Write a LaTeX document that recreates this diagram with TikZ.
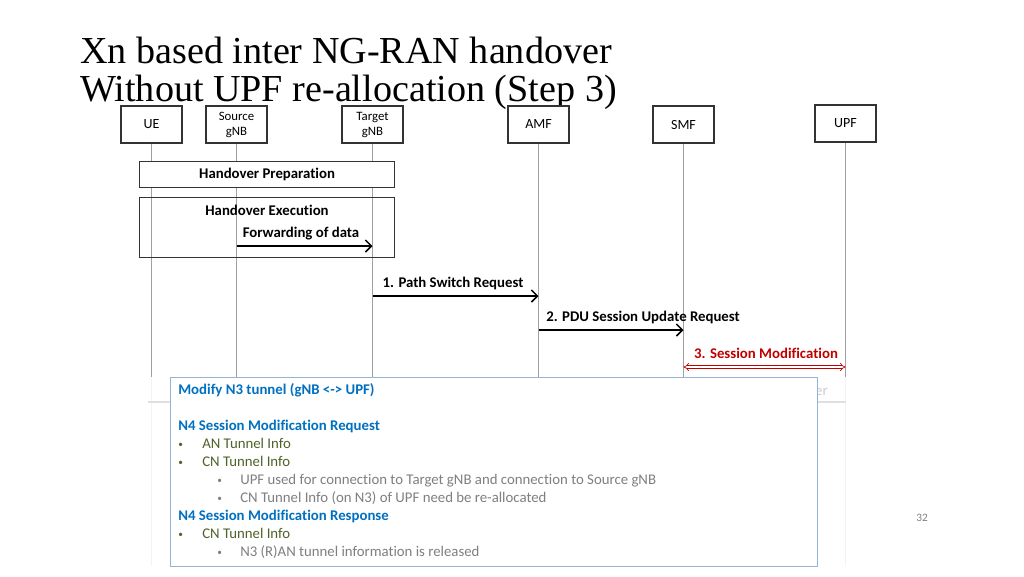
\documentclass[tikz,border=0pt]{standalone}
\usepackage{fontspec}
\setmainfont{Carlito}[Ligatures=NoCommon]
\newfontfamily\titlefont{Liberation Serif}
\usetikzlibrary{arrows.meta}
\definecolor{lifegray}{RGB}{160,160,160}
\definecolor{hdblue}{RGB}{0,112,192}
\definecolor{olive}{RGB}{79,98,40}
\definecolor{txtgray}{RGB}{127,127,127}
\definecolor{boxblue}{RGB}{149,179,215}
\definecolor{sred}{RGB}{192,0,0}
\newcommand{\smbul}{{\fontsize{7}{8}\selectfont\raisebox{0.5pt}{•}}}
\tikzset{
  actor/.style={draw=black!80, line width=0.8pt, fill=white, minimum width=45.75pt, minimum height=27.75pt, inner sep=0pt, font=\fontsize{10.5}{12}\selectfont, align=center},
  actorsm/.style={actor, font=\fontsize{9.6}{11.25}\selectfont},
  lifeline/.style={draw=lifegray, line width=0.9pt},
  frame/.style={draw=black!80, line width=0.9pt, anchor=north west, inner sep=0pt},
  lbl/.style={font=\bfseries\fontsize{11.1}{13}\selectfont, inner sep=0pt},
  msg/.style={draw=black, line width=1.1pt, -{Straight Barb[length=4.5pt,width=9pt]}},
  infotxt/.style={anchor=base west, inner sep=0pt, font=\fontsize{11.1}{13}\selectfont},
  infohd/.style={infotxt, text=hdblue, font=\bfseries\fontsize{11.1}{13}\selectfont},
}
\begin{document}
\begin{tikzpicture}[x=0.75pt,y=-0.75pt]
\useasboundingbox (0,0) rectangle (1024,576);
% title
\node[anchor=base west, inner sep=0pt, font=\titlefont\fontsize{28.6}{30}\selectfont] (t1) at (80,63) {Xn based inter NG-RAN handover};
\node[anchor=base west, inner sep=0pt, font=\titlefont\fontsize{28.6}{30}\selectfont] (t2) at (80,101) {Without UPF re-allocation (Step 3)};
% actors
\node[actor] (ue) at (151.5,124.5) {UE};
\node[actorsm] (src) at (236.5,124.5) {Source\\gNB};
\node[actorsm] (tgt) at (372.5,124.5) {Target\\gNB};
\node[actor] (amf) at (538.5,124.5) {AMF};
\node[actor] (smf) at (683.5,124.5) {SMF};
\node[actor] (upf) at (845.5,123.5) {UPF};
% lifelines
\foreach \n in {ue,src,tgt,amf,smf,upf}{
  \draw[lifeline] (\n.south) -- (\n.south |- 0,566);
}
% handover preparation
\node[frame, fill=white, minimum width=191.25pt, minimum height=19.5pt] (hp) at (139,161) {};
\node[lbl] (hptxt) at (hp.center) {Handover Preparation};
% handover execution
\node[frame, minimum width=191.25pt, minimum height=45pt] (he) at (139,197) {};
\node[lbl] (hetxt) at (267,210) {Handover Execution};
\node[lbl] (fwd) at (301,234) {Forwarding of data};
\draw[msg] (src.south |- 0,246) -- (tgt.south |- 0,246);
% messages
\node[lbl] (m1) at (453,283) {1. Path Switch Request};
\draw[msg] (tgt.south |- 0,296) -- (amf.south |- 0,296);
\node[lbl, anchor=west] (m2) at (546,317) {2. PDU Session Update Request};
\draw[msg] (amf.south |- 0,330) -- (smf.south |- 0,330);
\node[lbl, text=sred] (m3) at (766,353) {3. Session Modification};
\draw[draw=sred, line width=0.5pt, double=white, double distance=1.6pt, {Implies[length=4pt]}-{Implies[length=4pt]}] (smf.south |- 0,367) -- (upf.south |- 0,367);
% faded overlay
\fill[white, opacity=0.88] (148,377) rectangle (847,566);
\draw[gray!25, line width=0.9pt] (148,402) -- (846,402);
\node[anchor=base east, inner sep=0pt, text=gray!40, font=\fontsize{11.1}{13}\selectfont] (faded) at (828,395) {er};
% info box
\node[draw=boxblue, line width=0.9pt, fill=white, anchor=north west, minimum width=485.25pt, minimum height=141.75pt, inner sep=0pt] (info) at (170,377) {};
\node[infohd] (i1) at (178,394) {Modify N3 tunnel (gNB <-> UPF)};
\node[infohd] (i2) at (178,430) {N4 Session Modification Request};
\node[infotxt, text=olive] (b3) at (178,448) {\smbul};
\node[infotxt, text=olive] (i3) at (202,448) {AN Tunnel Info};
\node[infotxt, text=olive] (b4) at (178,466) {\smbul};
\node[infotxt, text=olive] (i4) at (202,466) {CN Tunnel Info};
\node[infotxt, text=txtgray] (b5) at (217,484) {\smbul};
\node[infotxt, text=txtgray] (i5) at (240,484) {UPF used for connection to Target gNB and connection to Source gNB};
\node[infotxt, text=txtgray] (b6) at (217,502) {\smbul};
\node[infotxt, text=txtgray] (i6) at (240,502) {CN Tunnel Info (on N3) of UPF need be re-allocated};
\node[infohd] (i7) at (178,520) {N4 Session Modification Response};
\node[infotxt, text=olive] (b8) at (178,538) {\smbul};
\node[infotxt, text=olive] (i8) at (202,538) {CN Tunnel Info};
\node[infotxt, text=txtgray] (b9) at (217,556) {\smbul};
\node[infotxt, text=txtgray] (i9) at (240,556) {N3 (R)AN tunnel information is released};
% page number
\node[inner sep=0pt, text=txtgray, font=\fontsize{8.5}{10}\selectfont] (pg) at (922,518) {32};
\end{tikzpicture}
\end{document}
